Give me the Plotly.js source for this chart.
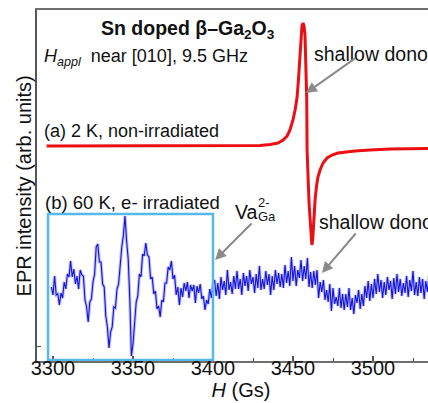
<!DOCTYPE html>
<html>
<head>
<meta charset="utf-8">
<script src="https://cdn.plot.ly/plotly-3.0.1.min.js"></script>
<style>
  html, body { margin: 0; padding: 0; width: 428px; height: 403px; overflow: hidden; background: #fff; }
  #chart { width: 455px; height: 403px; }
</style>
</head>
<body>
<div id="chart"></div>
<script>
// (a) 2 K, non-irradiated — red spectrum (field in Gs, intensity in arb. units)
const redField = [3296, 3423, 3429.4, 3435.6, 3440.6, 3443.8, 3446.3, 3448.1, 3450, 3451.3, 3452.5, 3453.4,
  3454.4, 3455, 3455.6, 3456.3, 3456.9, 3457.5, 3458.1, 3458.6, 3458.8, 3459.1, 3459.6, 3460.1, 3460.6,
  3461.3, 3461.8, 3462.3, 3462.8, 3463.8, 3464.7, 3465.6, 3466.9, 3468.8, 3471.3, 3474.4, 3478.1, 3482.5,
  3488.8, 3498.1, 3510.6, 3534.4, 3545];
const redSignal = [215, 215, 215.5, 216.5, 218, 221, 225, 231, 241, 251, 263, 281,
  306, 325, 335, 338, 335, 326, 296, 261, 211, 191, 176, 156, 141,
  123, 116, 121, 136, 161, 175, 184, 191, 198, 203, 206, 208, 209,
  210, 211, 212, 212.5, 213];

// (b) 60 K, e- irradiated — blue spectrum
const blueField = [3299,3300,3301,3302,3303,3304,3305,3306,3307,3308,3309,3310,3311,3312,3313,3314,3315,3316,3317,3318,3319,
  3320,3321,3322,3323,3324,3325,3326,3327,3328,3329,3330,3331,3332,3333,3334,3335,3336,3337,3338,3339,
  3340,3341,3342,3343,3344,3345,3346,3347,3348,3349,3350,3351,3352,3353,3354,3355,3356,3357,3358,3359,
  3360,3361,3362,3363,3364,3365,3366,3367,3368,3369,3370,3371,3372,3373,3374,3375,3376,3377,3378,3379,
  3380,3381,3382,3383,3384,3385,3386,3387,3388,3389,3390,3391,3392,3393,3394,3395,3396,3397,3398,3399,
  3400,3401,3402,3403,3404,3405,3406,3407,3408,3409,3410,3411,3412,3413,3414,3415,3416,3417,3418,3419,
  3420,3421,3422,3423,3424,3425,3426,3427,3428,3429,3430,3431,3432,3433,3434,3435,3436,3437,3438,3439,
  3440,3441,3442,3443,3444,3445,3446,3447,3448,3449,3450,3451,3452,3453,3454,3455,3456,3457,3458,3459,
  3460,3461,3462,3463,3464,3465,3466,3467,3468,3469,3470,3471,3472,3473,3474,3475,3476,3477,3478,3479,
  3480,3481,3482,3483,3484,3485,3486,3487,3488,3489,3490,3491,3492,3493,3494,3495,3496,3497,3498,3499,
  3500,3501,3502,3503,3504,3505,3506,3507,3508,3509,3510,3511,3512,3513,3514,3515,3516,3517,3518,3519,
  3520,3521,3522,3523,3524,3525,3526,3527,3528,3529,3530,3531,3532,3533,3534,3535,3536,3537,3538,3539,
  3540,3541,3542,3543,3544,3545];
const blueSignal = [74,66,85,66,67,56,68,63,79,72,87,84,100,84,92,77,85,72,91,86,85,
  61,54,39,59,62,79,87,114,117,99,99,77,74,45,34,13,29,34,54,53,
  72,77,101,114,126,145,120,102,62,5,17,35,59,65,87,84,107,105,118,106,
  104,82,84,67,70,52,55,44,61,59,78,78,94,91,100,82,86,66,74,56,
  73,64,78,70,79,63,76,70,76,58,75,68,77,62,65,51,61,57,72,63,
  77,81,65,78,62,84,71,80,66,91,71,79,67,85,72,90,72,82,66,88,
  75,85,70,91,77,84,68,87,73,95,71,82,72,90,76,87,66,85,71,91,
  77,88,74,87,73,96,78,90,75,104,80,95,75,91,83,101,80,95,82,103,
  74,89,73,90,76,91,63,79,69,81,61,71,59,77,50,73,57,64,55,73,
  53,67,51,67,54,73,51,63,47,66,58,71,52,67,55,75,63,80,60,77,
  63,82,67,87,69,81,63,79,66,84,71,80,62,83,67,87,69,82,65,78,
  68,85,64,81,70,90,66,79,65,84,68,82,62,80,69,85,67,83,64,78,
  66,81,69,86,68,82];

const xTickStart = 3300, xTickStep = 50;

const textFont = 'Liberation Sans, Arial, sans-serif';
const arrowGray = '#8a8a8a';

const traces = [
  { x: blueField, y: blueSignal, mode: 'lines', type: 'scatter',
    line: { color: 'rgba(110,110,245,0.45)', width: 3.2 }, hoverinfo: 'skip', showlegend: false },
  { x: blueField, y: blueSignal, mode: 'lines', type: 'scatter',
    line: { color: 'rgb(20,20,215)', width: 1.1 }, name: '(b) 60 K, e- irradiated', showlegend: false },
  { x: redField, y: redSignal, mode: 'lines', type: 'scatter',
    line: { color: 'rgb(235,15,20)', width: 3 }, name: '(a) 2 K, non-irradiated', showlegend: false }
];

function label(text, x, y, size, extra) {
  return Object.assign({ text: text, x: x, y: y, xref: 'x', yref: 'y', showarrow: false,
    xanchor: 'left', yanchor: 'middle', font: { family: textFont, size: size, color: '#111' } }, extra || {});
}
function arrow(x, y, ax, ay) {
  return { text: '', x: x, y: y, xref: 'x', yref: 'y', ax: ax, ay: ay, showarrow: true,
    arrowhead: 2, arrowsize: 1.1, arrowwidth: 2, arrowcolor: arrowGray };
}

const layout = {
  width: 455, height: 403,
  margin: { l: 37, r: 10, t: 10, b: 42 },
  paper_bgcolor: '#fff', plot_bgcolor: '#fff',
  showlegend: false,
  font: { family: textFont, color: '#111' },
  xaxis: {
    range: [3290, 3545], showgrid: false, zeroline: false,
    showline: true, linecolor: '#6e6e6e', linewidth: 1.6, mirror: true,
    ticks: 'inside', ticklen: 5, tickwidth: 1.2, tickcolor: '#555',
    tick0: xTickStart, dtick: xTickStep, ticklabelstandoff: -12,
    minor: { dtick: 25, ticks: 'inside', ticklen: 3, tickcolor: '#555', tickwidth: 1 },
    tickfont: { family: textFont, size: 20, color: '#111' },
    title: { text: '<i>H</i> (Gs)', font: { family: textFont, size: 20, color: '#111' }, standoff: 5 }
  },
  yaxis: {
    range: [0, 351], showgrid: false, zeroline: false,
    showline: true, linecolor: '#555', linewidth: 1.6,
    ticks: 'inside', ticklen: 4, tickcolor: '#555', tickvals: [15], showticklabels: false
  },
  shapes: [
    { type: 'rect', xref: 'x', yref: 'y', x0: 3296.9, x1: 3400, y0: 1, y1: 147,
      line: { color: 'rgb(85,185,235)', width: 2.5 }, fillcolor: 'rgba(0,0,0,0)' }
  ],
  annotations: [
    { text: 'EPR intensity (arb. units)', xref: 'paper', yref: 'paper', x: -0.032, y: 0.5,
      xanchor: 'center', yanchor: 'middle', textangle: -90, showarrow: false,
      font: { family: textFont, size: 20, color: '#111' } },
    label('<b>Sn doped β–Ga<sub>2</sub>O<sub>3</sub></b>', 3384.4, 332, 19.5, { xanchor: 'center' }),
    label('<i>H<sub>appl</sub></i>  near [010], 9.5 GHz', 3293.1, 304, 18),
    label('(a) 2 K, non-irradiated', 3293.1, 230, 18),
    label('shallow donor', 3461.9, 307, 19.5),
    arrow(3458.1, 268, 51, -36),
    label('(b) 60 K, e- irradiated', 3293.8, 159, 18.5),
    label('Va', 3412.5, 149, 19.5),
    label('2-', 3426.6, 159, 13),
    label('Ga', 3426.6, 145, 13),
    arrow(3401.3, 101, 38, -38),
    label('shallow donor', 3465, 139, 19.5),
    arrow(3468.1, 88, 35, -41)
  ]
};

Plotly.newPlot('chart', traces, layout, { staticPlot: true, displayModeBar: false });
</script>
</body>
</html>
